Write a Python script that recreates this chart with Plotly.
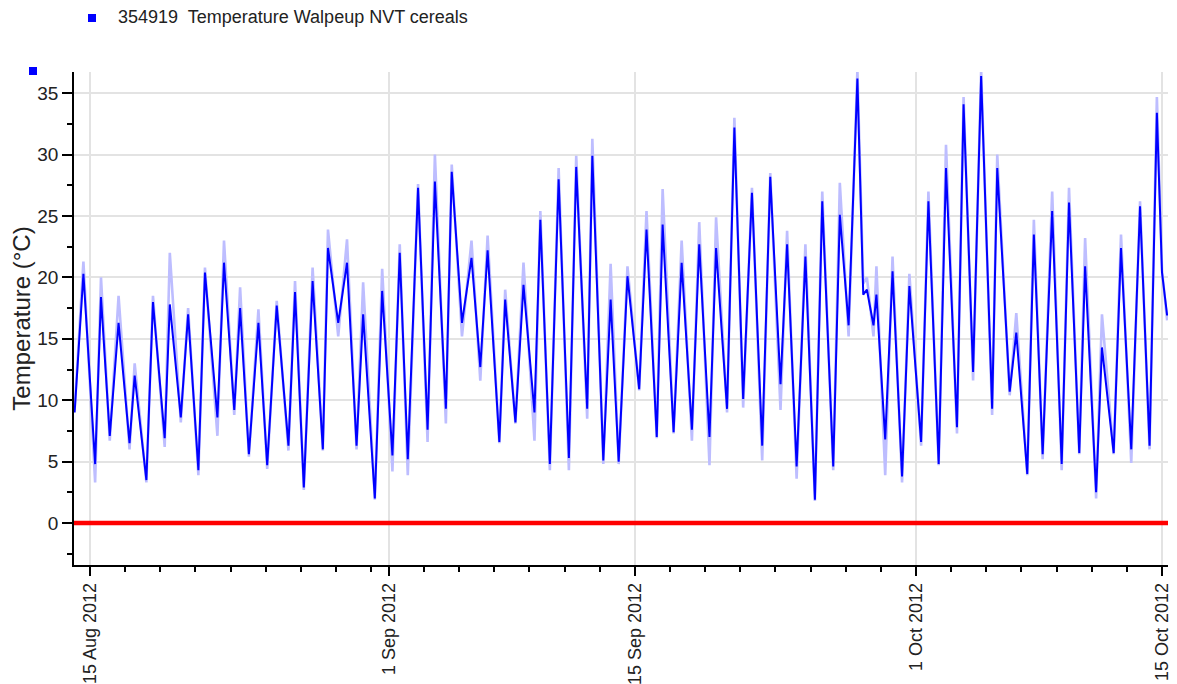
import pandas as pd
import plotly.graph_objects as go

# daily turning points (station 354919, Walpeup)
times = [
    "2012-08-14 03:00", "2012-08-14 15:00", "2012-08-15 07:00", "2012-08-15 15:00",
    "2012-08-16 03:00", "2012-08-16 15:00", "2012-08-17 06:00", "2012-08-17 13:00",
    "2012-08-18 05:00", "2012-08-18 14:00", "2012-08-19 06:00", "2012-08-19 13:00",
    "2012-08-20 04:00", "2012-08-20 14:00", "2012-08-21 04:00", "2012-08-21 13:00",
    "2012-08-22 06:00", "2012-08-22 15:00", "2012-08-23 05:00", "2012-08-23 13:00",
    "2012-08-24 01:00", "2012-08-24 14:00", "2012-08-25 02:00", "2012-08-25 15:00",
    "2012-08-26 07:00", "2012-08-26 16:00", "2012-08-27 04:00", "2012-08-27 16:00",
    "2012-08-28 06:00", "2012-08-28 13:00", "2012-08-29 03:00", "2012-08-29 15:00",
    "2012-08-30 04:00", "2012-08-30 13:00", "2012-08-31 05:00", "2012-08-31 15:00",
    "2012-09-01 05:00", "2012-09-01 15:00", "2012-09-02 02:00", "2012-09-02 16:00",
    "2012-09-03 05:00", "2012-09-03 15:00", "2012-09-04 06:00", "2012-09-04 14:00",
    "2012-09-05 04:00", "2012-09-05 17:00", "2012-09-06 05:00", "2012-09-06 15:00",
    "2012-09-07 07:00", "2012-09-07 15:00", "2012-09-08 05:00", "2012-09-08 16:00",
    "2012-09-09 07:00", "2012-09-09 15:00", "2012-09-10 04:00", "2012-09-10 16:00",
    "2012-09-11 06:00", "2012-09-11 16:00", "2012-09-12 07:00", "2012-09-12 14:00",
    "2012-09-13 05:00", "2012-09-13 15:00", "2012-09-14 02:00", "2012-09-14 14:00",
    "2012-09-15 06:00", "2012-09-15 16:00", "2012-09-16 06:00", "2012-09-16 14:00",
    "2012-09-17 05:00", "2012-09-17 16:00", "2012-09-18 06:00", "2012-09-18 16:00",
    "2012-09-19 06:00", "2012-09-19 15:00", "2012-09-20 06:00", "2012-09-20 16:00",
    "2012-09-21 04:00", "2012-09-21 16:00", "2012-09-22 06:00", "2012-09-22 17:00",
    "2012-09-23 07:00", "2012-09-23 16:00", "2012-09-24 05:00", "2012-09-24 17:00",
    "2012-09-25 06:00", "2012-09-25 16:00", "2012-09-26 07:00", "2012-09-26 16:00",
    "2012-09-27 04:00", "2012-09-27 16:00", "2012-09-28 00:00", "2012-09-28 05:00",
    "2012-09-28 14:00", "2012-09-28 18:00", "2012-09-29 06:00", "2012-09-29 16:00",
    "2012-09-30 05:00", "2012-09-30 15:00", "2012-10-01 07:00", "2012-10-01 17:00",
    "2012-10-02 07:00", "2012-10-02 17:00", "2012-10-03 08:00", "2012-10-03 17:00",
    "2012-10-04 06:00", "2012-10-04 17:00", "2012-10-05 08:00", "2012-10-05 15:00",
    "2012-10-06 08:00", "2012-10-06 17:00", "2012-10-07 08:00", "2012-10-07 17:00",
    "2012-10-08 05:00", "2012-10-08 18:00", "2012-10-09 07:00", "2012-10-09 17:00",
    "2012-10-10 07:00", "2012-10-10 15:00", "2012-10-11 06:00", "2012-10-11 14:00",
    "2012-10-12 06:00", "2012-10-12 16:00", "2012-10-13 06:00", "2012-10-13 18:00",
    "2012-10-14 07:00", "2012-10-14 17:00", "2012-10-15 00:00", "2012-10-15 07:00",
]

# dark blue series
temp = [
    9.0, 20.3, 4.8, 18.4, 7.1, 16.3, 6.5, 12.0,
    3.5, 18.0, 6.9, 17.8, 8.6, 17.0, 4.3, 20.4,
    8.6, 21.2, 9.2, 17.5, 5.6, 16.3, 4.7, 17.7,
    6.3, 18.8, 2.9, 19.7, 6.0, 22.4, 16.3, 21.2,
    6.3, 17.0, 2.0, 18.9, 5.5, 22.0, 5.2, 27.3,
    7.6, 27.8, 9.3, 28.6, 16.3, 21.6, 12.7, 22.2,
    6.6, 18.2, 8.2, 19.4, 9.0, 24.7, 4.8, 28.0,
    5.3, 29.0, 9.3, 29.9, 5.1, 18.2, 5.0, 20.1,
    10.9, 23.9, 7.0, 24.3, 7.4, 21.2, 7.6, 22.7,
    7.0, 22.4, 9.3, 32.2, 10.1, 26.9, 6.3, 28.2,
    11.3, 22.7, 4.6, 21.7, 1.9, 26.2, 4.6, 25.1,
    16.1, 36.2, 18.6, 19.0, 16.1, 18.6, 6.8, 20.5,
    3.8, 19.3, 6.6, 26.2, 4.8, 28.9, 7.8, 34.1,
    12.3, 36.4, 9.3, 28.9, 10.7, 15.5, 4.0, 23.5,
    5.6, 25.4, 4.8, 26.1, 5.7, 20.9, 2.5, 14.3,
    5.7, 22.4, 6.0, 25.8, 6.3, 33.4, 20.4, 16.9,
]

# pale blue envelope behind it
temp_range = [
    9.2, 21.3, 3.3, 20.0, 6.7, 18.5, 6.0, 13.0,
    3.3, 18.5, 6.2, 22.0, 8.2, 17.5, 3.9, 20.8,
    7.1, 23.0, 8.8, 19.2, 5.4, 17.4, 4.4, 18.1,
    5.9, 19.7, 2.7, 20.8, 5.9, 23.9, 15.2, 23.1,
    6.0, 19.6, 1.9, 20.7, 4.2, 22.7, 3.9, 27.6,
    6.6, 30.0, 8.1, 29.2, 15.2, 23.0, 11.6, 23.4,
    6.5, 19.0, 8.1, 21.2, 6.7, 25.4, 4.3, 28.9,
    4.3, 29.9, 8.5, 31.3, 4.8, 21.1, 4.8, 20.9,
    10.8, 25.4, 6.9, 27.2, 7.3, 23.0, 6.7, 24.5,
    4.7, 24.9, 9.0, 33.0, 9.4, 27.3, 5.1, 28.5,
    9.2, 23.8, 3.6, 22.7, 1.8, 27.0, 4.3, 27.7,
    15.2, 36.9, 19.5, 20.0, 15.2, 20.9, 3.9, 21.7,
    3.3, 20.3, 6.3, 27.0, 4.7, 30.8, 7.3, 34.7,
    11.6, 36.9, 8.8, 30.0, 10.4, 17.1, 3.9, 24.7,
    5.2, 27.0, 4.3, 27.3, 5.6, 23.2, 2.0, 17.0,
    5.6, 23.5, 4.9, 26.2, 6.0, 34.7, 20.6, 16.5,
]

major_ticks = ["2012-08-15", "2012-09-01", "2012-09-15", "2012-10-01", "2012-10-15"]
major_labels = ["15 Aug 2012", "1 Sep 2012", "15 Sep 2012", "1 Oct 2012", "15 Oct 2012"]

# minor ticks every 2 days, restarting at each labelled date
minor_ticks = []
for a, b in zip(major_ticks[:-1], major_ticks[1:]):
    minor_ticks += [d.strftime("%Y-%m-%d") for d in pd.date_range(a, b, freq="2D")[1:]
                    if d < pd.Timestamp(b)]

font = "Liberation Sans, Arial, sans-serif"

fig = go.Figure()
fig.add_trace(go.Scatter(x=times, y=temp_range, mode="lines",
                         line=dict(color="#BDBDFF", width=2.6), showlegend=False))
fig.add_trace(go.Scatter(x=times, y=temp, mode="lines",
                         line=dict(color="#0000FF", width=2), showlegend=False))

# zero line
fig.add_hline(y=0, line=dict(color="#FF0000", width=4.5))

# legend square + text
fig.add_shape(type="rect", xref="paper", yref="paper", xsizemode="pixel", ysizemode="pixel",
              xanchor=0, yanchor=1, x0=14, x1=22, y0=50, y1=58,
              fillcolor="#0000FF", line=dict(width=0))
fig.add_annotation(text="354919  Temperature Walpeup NVT cereals", xref="paper", yref="paper",
                   x=0.0384, y=1.1116, xanchor="left", yanchor="middle", showarrow=False,
                   font=dict(family=font, size=18, color="#222222"))
# little marker at top-left of the axis
fig.add_shape(type="rect", xref="paper", yref="paper", xsizemode="pixel", ysizemode="pixel",
              xanchor=0, yanchor=1, x0=-45, x1=-37, y0=-3, y1=5,
              fillcolor="#0000FF", line=dict(width=0))

# page has an 8px body margin, so the figure is a bit smaller and shifted
fig.update_layout(
    template="none",
    width=1169, height=676,
    margin=dict(l=66, r=9, t=64, b=119),
    paper_bgcolor="white", plot_bgcolor="white",
    font=dict(family=font, size=18, color="#222222"),
    showlegend=False,
)
fig.update_xaxes(
    type="date",
    range=["2012-08-14 02:09", "2012-10-15 08:11"],
    tickmode="array", tickvals=major_ticks, ticktext=major_labels,
    tickangle=-90, tickfont=dict(size=18),
    ticks="outside", ticklen=9, tickwidth=1.5, tickcolor="black",
    minor=dict(tickmode="array", tickvals=minor_ticks, ticks="outside",
               ticklen=5, tickwidth=1.5, tickcolor="black", showgrid=False),
    showline=True, linecolor="black", linewidth=1.5,
    showgrid=True, gridcolor="#E3E3E3", gridwidth=1.5,
    zeroline=False, automargin=False,
)
fig.update_yaxes(
    range=[-3.42, 36.73],
    tickmode="linear", tick0=0, dtick=5, tickfont=dict(size=19),
    ticks="outside", ticklen=10, tickwidth=1.5, tickcolor="black",
    minor=dict(dtick=2.5, tick0=0, ticks="outside", ticklen=5,
               tickwidth=1.5, tickcolor="black", showgrid=False),
    showline=True, linecolor="black", linewidth=1.5,
    showgrid=True, gridcolor="#E3E3E3", gridwidth=1.5,
    zeroline=False, automargin=False,
    title=dict(text="Temperature (°C)", standoff=5, font=dict(size=24, color="#222222")),
)

fig.write_html("out.html")
